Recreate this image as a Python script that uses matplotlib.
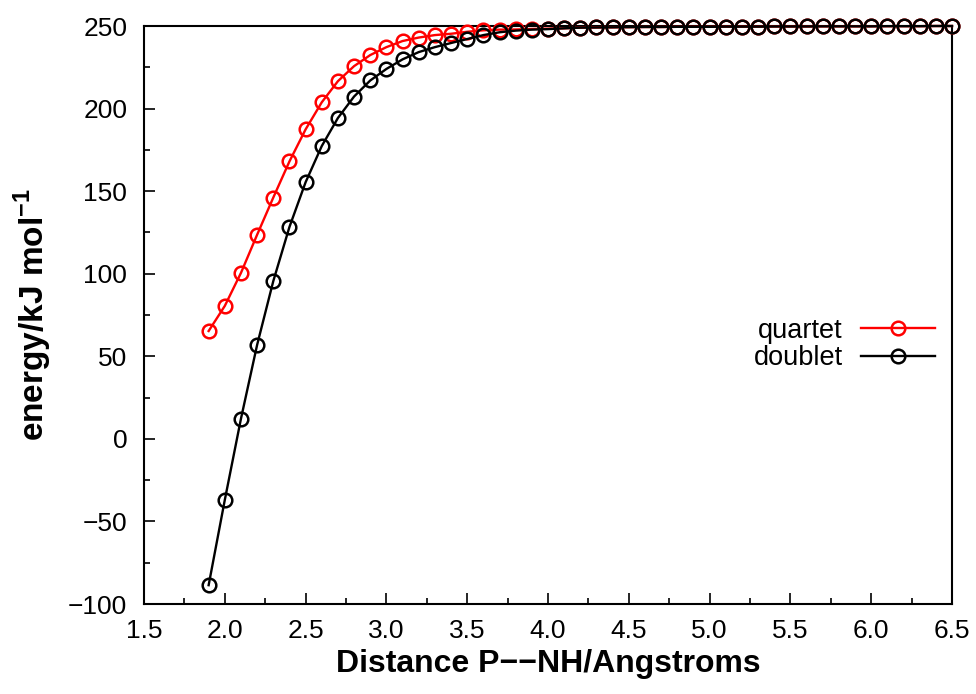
import numpy as np
import matplotlib
matplotlib.use("Agg")
import matplotlib.pyplot as plt
from matplotlib.ticker import MultipleLocator, FormatStrFormatter

plt.rcParams['font.family'] = ['Liberation Sans', 'DejaVu Sans']
plt.rcParams['mathtext.fontset'] = 'custom'
plt.rcParams['mathtext.bf'] = 'Liberation Sans:bold'
plt.rcParams['mathtext.rm'] = 'Liberation Sans'

# Distances (Angstrom)
distance = np.round(np.arange(1.9, 6.5001, 0.1), 1)

# Energies (kJ/mol)
quartet = [65.3, 80.5, 100.5, 123.6, 146.1, 168.0, 187.4, 203.8, 216.6, 225.7,
           232.4, 237.2, 240.9, 243.0, 244.5, 245.3, 246.5, 247.4, 247.8, 247.9,
           248.2, 248.4, 248.6, 249.0, 249.1, 249.2, 249.3, 249.4, 249.4, 249.5,
           249.5, 249.5, 249.6, 249.6, 249.6, 249.7, 249.7, 249.7, 249.8, 249.8,
           249.8, 249.8, 249.9, 249.9, 249.9, 250.0, 250.0]
doublet = [-88.6, -37.0, 12.2, 56.9, 95.5, 128.3, 155.4, 177.3, 194.3, 207.3,
           217.0, 224.0, 229.8, 234.2, 237.2, 239.7, 242.1, 244.5, 246.2, 247.2,
           247.8, 248.1, 248.6, 249.0, 249.1, 249.2, 249.3, 249.4, 249.4, 249.5,
           249.5, 249.5, 249.6, 249.6, 249.6, 249.7, 249.7, 249.7, 249.8, 249.8,
           249.8, 249.8, 249.9, 249.9, 249.9, 250.0, 250.0]

fig = plt.figure(figsize=(9.76, 6.94), dpi=100)
ax = fig.add_axes([144 / 976, 1 - 604 / 694, 808 / 976, 578 / 694])

ax.plot(distance, quartet, color='red', lw=1.7, marker='o', ms=9.8,
        mfc='none', mew=1.8, label='quartet', clip_on=False, zorder=3)
ax.plot(distance, doublet, color='black', lw=1.7, marker='o', ms=9.8,
        mfc='none', mew=1.8, label='doublet', clip_on=False, zorder=4)

ax.set_xlim(1.5, 6.5)
ax.set_ylim(-100, 250)
ax.xaxis.set_major_locator(MultipleLocator(0.5))
ax.xaxis.set_minor_locator(MultipleLocator(0.25))
ax.yaxis.set_major_locator(MultipleLocator(50))
ax.yaxis.set_minor_locator(MultipleLocator(25))
ax.xaxis.set_major_formatter(FormatStrFormatter('%.1f'))
ax.tick_params(which='both', direction='in', top=False, right=False)
ax.tick_params(axis='x', labelsize=19, pad=11)
ax.tick_params(axis='y', labelsize=19, pad=12)
ax.tick_params(which='major', length=8, width=1.2)
ax.tick_params(which='minor', length=4, width=1.2)
for s in ax.spines.values():
    s.set_linewidth(1.5)

ax.set_xlabel('Distance P\u2212\u2212NH/Angstroms', fontsize=23,
              fontweight='bold', labelpad=4)
ax.set_ylabel('energy/kJ mol$^{\\mathbf{\u22121}}$', fontsize=24,
              fontweight='bold', labelpad=10)

ax.legend(loc='center right', bbox_to_anchor=(0.979, 0.449), frameon=False,
          markerfirst=False, fontsize=19.5, handlelength=2.75,
          labelspacing=0.05, handletextpad=0.65, borderpad=0, borderaxespad=0)

fig.savefig('out.png', dpi=100)
